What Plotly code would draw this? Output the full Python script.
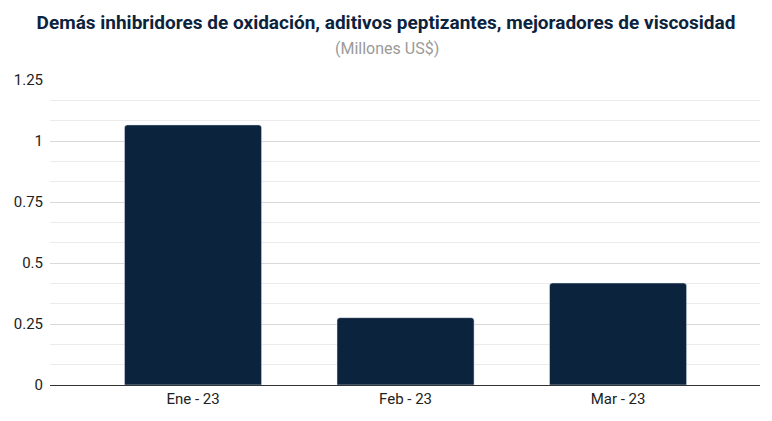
import plotly.graph_objects as go

categories = ["Ene - 23", "Feb - 23", "Mar - 23"]
values = [1.066, 0.276, 0.418]
tick_vals = [0, 0.25, 0.5, 0.75, 1, 1.25]
tick_text = ["0", "0.25", "0.5", "0.75", "1", "1.25"]

fig = go.Figure()
fig.add_trace(go.Bar(x=categories, y=values, marker_color="#0c233d", width=0.645))

fig.update_layout(
    width=772, height=421,
    margin=dict(l=42, r=20, t=72, b=44),
    paper_bgcolor="white", plot_bgcolor="white",
    font=dict(family="Roboto", color="#222"),
    barcornerradius=3,
    showlegend=False,
    title=dict(
        text="<b>Demás inhibridores de oxidación, aditivos peptizantes, mejoradores de viscosidad</b>",
        x=(386 - 8) / 772, xanchor="center", xref="container", y=1 - 14 / 421, yanchor="middle",
        font=dict(family="Roboto", size=19, color="#0c233d"),
    ),
    annotations=[dict(
        text="(Millones US$)", x=(387 - 8 - 42) / 710, xref="paper", y=1.0 + 31 / 305.0, yref="paper",
        yanchor="middle", showarrow=False,
        font=dict(family="Roboto", size=16, color="#9a9a9a"),
    )],
)

fig.update_xaxes(range=[-0.673, 2.668], showgrid=False, ticks="", tickfont=dict(size=15, color="#222"),
                 showline=False, zeroline=False, automargin=False, ticklabelstandoff=3)
fig.update_yaxes(range=[0, 1.25], tickvals=tick_vals, ticktext=tick_text,
                 showgrid=True, gridcolor="#d9d9d9", gridwidth=1,
                 minor=dict(dtick=0.25 / 3, tick0=0, showgrid=True, gridcolor="#ebebeb", gridwidth=1),
                 zeroline=True, zerolinecolor="#333", zerolinewidth=1, automargin=False,
                 tickfont=dict(size=15, color="#222"), ticks="", ticklabelstandoff=6)

fig.write_html("out.html")
